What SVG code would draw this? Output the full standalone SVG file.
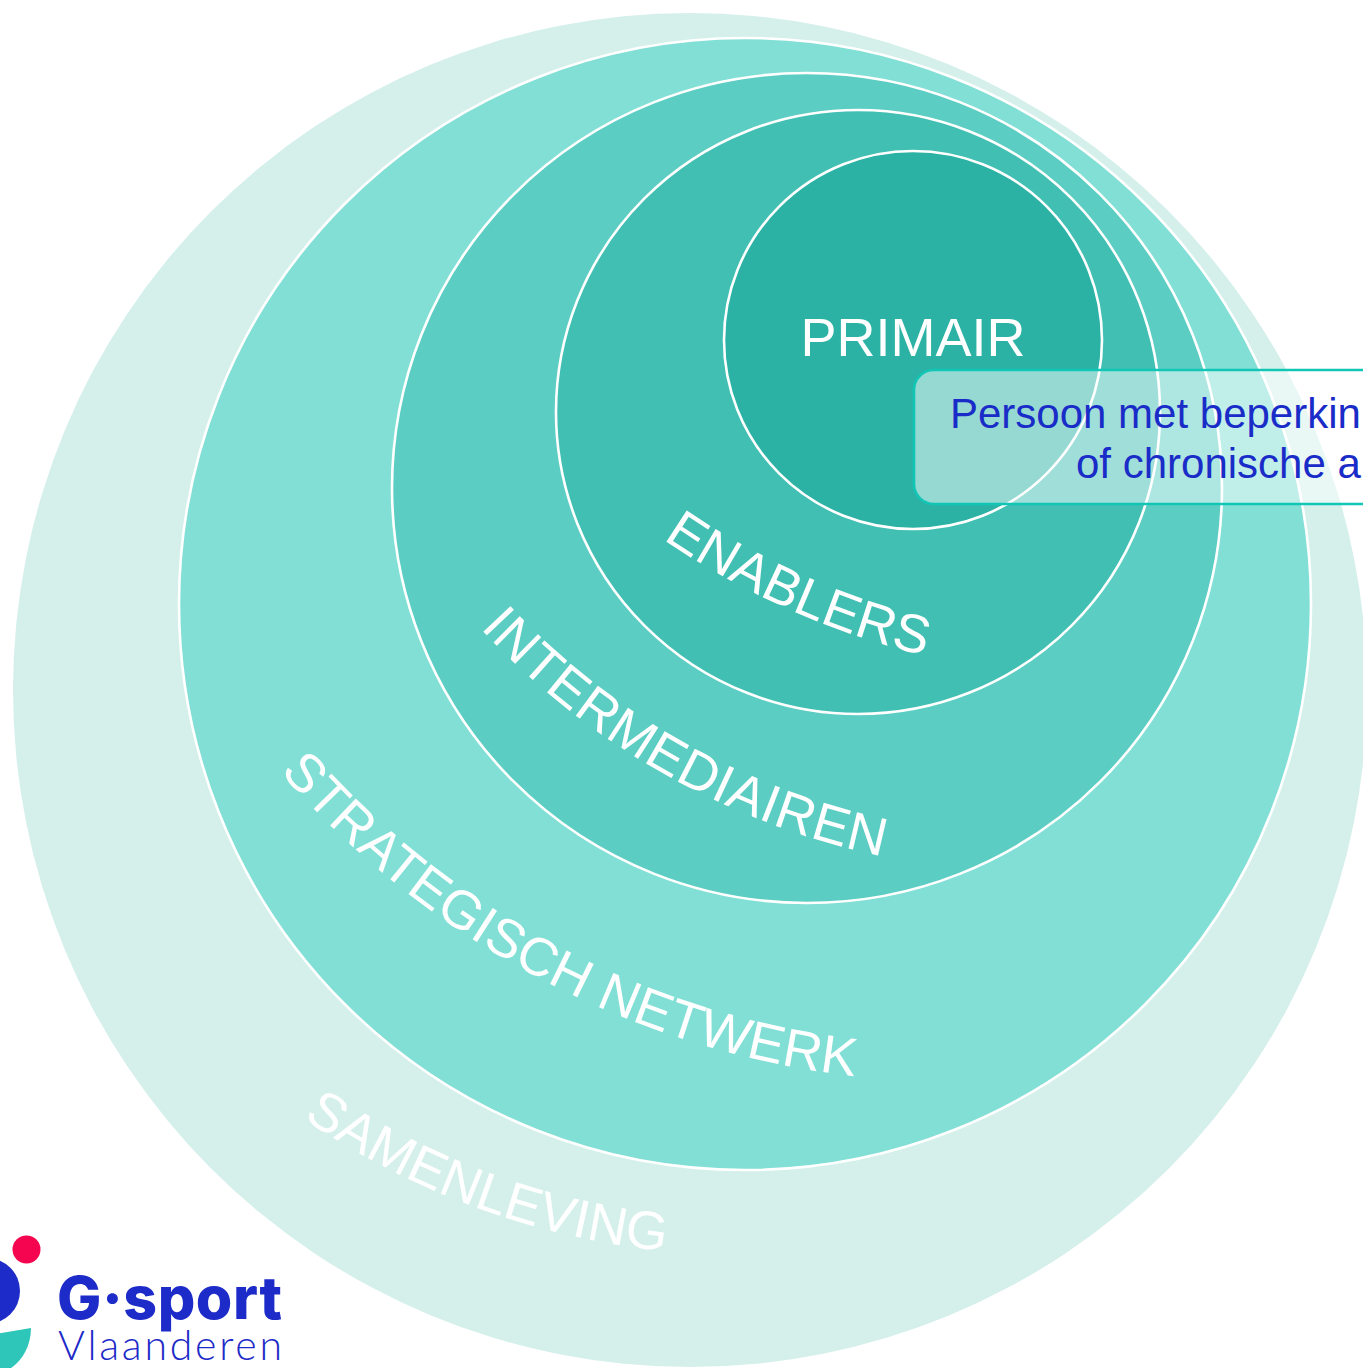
<svg xmlns="http://www.w3.org/2000/svg" width="1363" height="1368" viewBox="0 0 1363 1368">
<style>
.c{stroke:#fff;stroke-width:2.6}
.l{font-family:"Liberation Sans",Arial,sans-serif;fill:#fff;font-size:54px}
.b{font-family:"Liberation Sans",Arial,sans-serif;fill:#1a2cc8;font-size:42px}
</style>
<defs>
<path id="p-sam" d="M303 1118A780 780 0 0 0 664 1251"/>
<path id="p-str" d="M280 772A900 900 0 0 0 860 1077"/>
<path id="p-int" d="M480 628A760 760 0 0 0 886 857"/>
<path id="p-ena" d="M663 539A800 800 0 0 0 930 657"/>
</defs>
<rect width="1363" height="1368" fill="#fff"/>
<g id="samenleving"><circle cx="690" cy="690" r="677" fill="#d5f0eb"/>
<text class="l"><textPath href="#p-sam">SAMENLEVING</textPath></text></g>
<g id="strategisch"><circle class="c" cx="745" cy="604" r="566" fill="#81dfd5"/>
<text class="l"><textPath href="#p-str">STRATEGISCH NETWERK</textPath></text></g>
<g id="intermediairen"><circle class="c" cx="807" cy="488" r="415" fill="#5ccdc2"/>
<text class="l" letter-spacing="0.6"><textPath href="#p-int">INTERMEDIAIREN</textPath></text></g>
<g id="enablers"><circle class="c" cx="858" cy="412" r="302" fill="#41bfb2"/>
<text class="l"><textPath href="#p-ena">ENABLERS</textPath></text></g>
<g id="primair"><circle class="c" cx="913" cy="340" r="189" fill="#2bb2a5"/>
<text class="l" x="913" y="356" text-anchor="middle">PRIMAIR</text></g>
<g id="persoon"><rect x="914" y="370" width="600" height="134" rx="20" fill="#fff" fill-opacity="0.5" stroke="#12c6b6" stroke-width="2.6"/>
<text class="b" x="950" y="428">Persoon met beperkin</text>
<text class="b" x="1076" y="478">of chronische a</text></g>
<g id="logo">
<circle cx="26.500" cy="1249.500" r="14" fill="#f5054f"/>
<circle cx="-13" cy="1291" r="33" fill="#1d2bc8"/>
<path d="M-5 1334L31 1328C31 1346 22 1362 8 1370H-5Z" fill="#2ec6b8"/>
<text x="57" y="1319" font-family="Inter,'Liberation Sans',sans-serif" font-weight="800" font-size="59" fill="#1d2bc8" textLength="225">G·sport</text>
<text x="58" y="1360" font-family="Lato,'Liberation Sans',sans-serif" font-weight="300" font-size="41" fill="#1d2bc8" textLength="224">Vlaanderen</text>
</g>
<g id="connectors"></g>
</svg>
